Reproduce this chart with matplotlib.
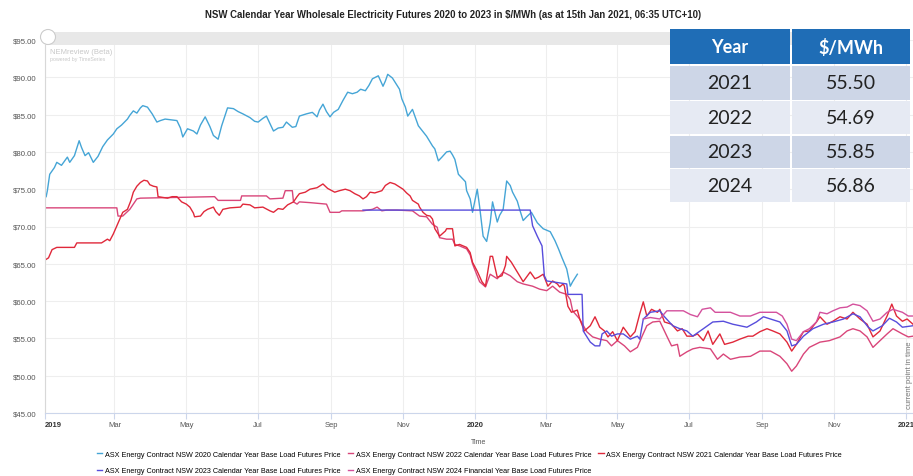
import matplotlib
matplotlib.use('Agg')
import matplotlib.pyplot as plt
import matplotlib.transforms as mtransforms
from matplotlib.patches import Rectangle, Ellipse
import pandas as pd

# days are counted from 1 Jan 2019
start = pd.Timestamp('2019-01-01')

cy2020_day = [1, 2, 4, 8, 10, 14, 19, 21, 25, 29, 31, 34, 37, 41, 45, 49, 53, 58, 61, 65,
              70, 72, 75, 78, 81, 83, 87, 91, 95, 98, 102, 107, 112, 115, 117, 121, 126, 129, 132, 136,
              140, 143, 147, 150, 155, 160, 164, 168, 174, 178, 181, 185, 188, 191, 194, 198, 202, 205, 210, 213,
              216, 222, 227, 231, 233, 236, 239, 242, 245, 249, 253, 257, 261, 265, 268, 272, 275, 278, 283, 287,
              289, 291, 295, 297, 301, 303, 306, 308, 312, 317, 320, 324, 329, 331, 334, 337, 341, 344, 346, 348,
              351, 354, 357, 358, 361, 363, 367, 369, 372, 375, 378, 380, 384, 386, 389, 392, 395, 397, 401, 403,
              406, 409, 413, 418, 423, 429, 433, 436, 439, 443, 446, 448, 452]
cy2020_val = [74.0, 74.8, 77.0, 77.9, 78.6, 78.2, 79.3, 78.6, 79.5, 81.5, 80.6, 79.5, 79.9, 78.6, 79.4, 80.7, 81.6, 82.4, 83.1, 83.6,
              84.4, 84.9, 85.5, 85.2, 85.9, 86.2, 86.0, 85.1, 84.0, 84.2, 84.4, 84.3, 84.2, 83.2, 82.0, 83.1, 82.8, 82.4, 83.6, 84.7,
              83.4, 82.2, 81.7, 83.5, 85.9, 85.8, 85.4, 85.1, 84.6, 84.1, 84.0, 84.5, 84.8, 83.8, 82.8, 83.2, 83.3, 84.0, 83.3, 83.4,
              84.8, 85.1, 85.3, 84.7, 85.6, 86.4, 85.4, 84.7, 85.3, 85.7, 86.9, 88.0, 87.8, 88.0, 88.4, 88.2, 88.9, 89.8, 90.2, 88.8,
              89.5, 90.4, 89.9, 89.4, 88.4, 87.1, 86.0, 84.8, 85.7, 83.5, 82.9, 82.1, 80.8, 80.4, 78.8, 79.3, 80.0, 80.1, 79.6, 79.0,
              77.0, 76.5, 76.0, 74.8, 73.7, 71.9, 75.0, 72.7, 68.7, 68.0, 70.5, 73.3, 70.6, 71.5, 72.3, 76.1, 75.5, 74.6, 73.4, 72.3,
              70.8, 71.3, 71.9, 70.5, 69.7, 69.3, 68.1, 67.0, 65.8, 64.3, 62.0, 62.6, 63.6]

cy2022_day = [1, 61, 62, 66, 72, 78, 81, 144, 147, 166, 167, 188, 191, 202, 204, 210, 211, 214, 216, 225,
              239, 242, 250, 252, 270, 278, 282, 286, 290, 299, 312, 318, 324, 329, 333, 335, 341, 346, 348, 352,
              358, 361, 363, 369, 374, 378, 384, 389, 395, 401, 406, 414, 420, 426, 431, 437, 443, 446, 448, 454,
              460, 465, 471, 477, 481, 486, 492, 497, 503, 507, 511, 516, 522, 528, 532, 537, 539, 545, 550, 556,
              565, 571, 576, 582, 590, 599, 607, 616, 624, 630, 634, 638, 644, 649, 658, 666, 675, 681, 686, 692,
              698, 703, 709, 715, 720, 728, 733, 737]
cy2022_val = [72.5, 72.5, 71.4, 71.4, 72.3, 73.7, 73.8, 74.0, 73.5, 73.5, 74.1, 74.1, 73.7, 73.8, 74.8, 74.8, 73.3, 73.0, 73.3, 73.2,
              73.0, 71.9, 71.9, 72.1, 72.1, 72.3, 72.6, 72.1, 72.2, 72.2, 72.1, 71.4, 71.3, 70.3, 69.9, 68.5, 68.3, 68.3, 67.6, 67.4,
              67.0, 66.2, 65.0, 62.6, 61.9, 63.6, 63.0, 63.9, 63.4, 62.6, 62.3, 62.0, 61.6, 61.4, 62.0, 61.2, 60.9, 60.2, 58.7, 57.6,
              55.9, 55.2, 54.9, 54.7, 54.0, 54.7, 54.0, 53.2, 53.8, 55.3, 56.7, 57.2, 57.3, 55.3, 54.0, 54.2, 52.6, 53.2, 53.6, 53.8,
              53.6, 52.2, 52.9, 52.2, 52.5, 52.6, 53.3, 53.3, 52.6, 51.6, 50.6, 51.3, 52.9, 53.8, 54.5, 54.7, 55.2, 56.0, 56.3, 56.0,
              55.2, 53.8, 54.7, 55.6, 56.3, 55.6, 55.2, 55.3]

cy2021_day = [1, 3, 6, 10, 25, 27, 48, 53, 55, 58, 61, 64, 66, 70, 73, 75, 78, 81, 84, 87,
              89, 92, 95, 96, 100, 104, 108, 112, 116, 120, 123, 126, 127, 132, 135, 138, 143, 145, 148, 151,
              157, 166, 168, 174, 178, 185, 191, 194, 198, 202, 206, 211, 214, 216, 221, 225, 231, 236, 240, 246,
              250, 255, 259, 263, 267, 270, 273, 276, 280, 286, 289, 293, 297, 301, 304, 307, 310, 312, 317, 318,
              321, 324, 327, 329, 331, 335, 340, 341, 346, 348, 352, 358, 361, 363, 367, 371, 374, 376, 378, 380,
              384, 388, 391, 392, 396, 401, 406, 412, 416, 419, 423, 427, 431, 435, 437, 440, 441, 444, 447, 452,
              454, 458, 463, 467, 471, 475, 478, 482, 486, 491, 497, 501, 505, 508, 511, 515, 520, 522, 526, 532,
              537, 541, 545, 550, 554, 559, 563, 567, 573, 577, 584, 590, 597, 601, 607, 613, 618, 624, 630, 634,
              638, 644, 649, 655, 658, 664, 669, 675, 681, 686, 692, 698, 703, 709, 715, 719, 723, 728, 732, 737]
cy2021_val = [65.6, 65.8, 66.9, 67.2, 67.2, 67.8, 67.8, 68.3, 68.1, 69.0, 70.1, 71.2, 71.9, 72.3, 73.5, 74.6, 75.4, 75.9, 76.2, 76.1,
              75.6, 75.4, 75.3, 74.0, 73.9, 73.8, 74.0, 74.0, 73.3, 73.0, 72.6, 71.8, 71.3, 71.4, 72.0, 72.3, 72.6, 72.0, 71.5, 72.3,
              72.5, 72.6, 73.0, 72.9, 72.5, 72.6, 72.1, 71.9, 72.4, 72.3, 72.9, 73.3, 74.0, 74.4, 74.6, 75.0, 75.2, 75.7, 75.1, 74.6,
              74.8, 75.0, 74.8, 74.4, 74.1, 73.7, 74.0, 74.6, 74.5, 74.8, 75.5, 75.9, 75.7, 75.3, 75.0, 74.5, 74.1, 73.5, 73.0, 72.6,
              71.9, 71.5, 71.4, 71.0, 69.7, 68.7, 69.4, 69.7, 69.7, 67.4, 67.6, 67.2, 66.5, 65.2, 64.0, 62.6, 62.0, 64.0, 66.0, 66.0,
              63.2, 63.4, 64.8, 66.0, 65.2, 63.9, 62.6, 63.9, 63.0, 63.2, 63.6, 62.0, 62.7, 62.3, 61.9, 62.3, 62.0, 59.3, 58.5, 58.8,
              57.6, 56.0, 56.7, 57.9, 56.5, 56.0, 55.2, 55.9, 54.7, 56.5, 55.2, 55.9, 58.3, 59.9, 58.0, 58.9, 58.5, 58.9, 57.2, 56.9,
              56.0, 56.3, 55.3, 55.3, 55.6, 54.7, 56.0, 54.2, 55.6, 54.2, 54.5, 54.9, 55.3, 55.3, 55.9, 56.3, 56.0, 55.6, 54.5, 53.3,
              54.2, 55.9, 56.0, 57.2, 57.9, 56.9, 57.3, 57.9, 57.6, 58.5, 57.6, 56.9, 55.2, 56.0, 58.0, 59.6, 58.0, 57.3, 57.6, 56.9]

cy2023_day = [270, 284, 301, 412, 414, 418, 422, 424, 426, 443, 444, 456, 457, 463, 467, 471, 473, 477, 481, 486,
              491, 497, 503, 505, 508, 514, 522, 526, 533, 539, 545, 550, 559, 567, 576, 584, 596, 604, 610, 616,
              624, 630, 634, 638, 644, 652, 661, 669, 678, 686, 692, 699, 703, 711, 717, 723, 728, 737]
cy2023_val = [72.2, 72.2, 72.2, 72.2, 70.1, 68.7, 67.4, 63.4, 62.7, 62.3, 60.9, 60.9, 56.0, 54.5, 54.0, 54.0, 55.6, 56.0, 55.3, 55.6,
              55.6, 54.9, 55.3, 54.9, 57.6, 58.5, 58.7, 57.9, 56.7, 56.3, 56.0, 55.3, 56.3, 57.2, 57.3, 56.9, 56.5, 57.2, 57.9, 57.6,
              57.2, 56.0, 54.0, 54.2, 55.3, 56.3, 56.9, 57.2, 57.6, 58.3, 57.9, 56.5, 56.0, 56.7, 57.7, 57.2, 56.5, 56.7]

fy2024_day = [508, 514, 522, 528, 542, 548, 554, 558, 565, 569, 582, 590, 599, 607, 621, 626, 630, 634, 638, 644,
              649, 655, 658, 664, 669, 675, 681, 686, 692, 698, 703, 709, 715, 720, 728, 733, 737]
fy2024_val = [57.6, 57.8, 57.6, 58.7, 58.7, 58.2, 57.9, 58.9, 59.1, 58.5, 58.5, 58.0, 58.0, 58.5, 58.5, 58.0, 56.9, 54.9, 54.7, 55.9,
              56.3, 57.2, 58.5, 58.3, 58.7, 59.1, 59.2, 59.6, 59.4, 58.7, 57.3, 57.6, 58.5, 58.9, 58.5, 58.0, 58.0]

table_years = ['2021', '2022', '2023', '2024']
table_prices = ['55.50', '54.69', '55.85', '56.86']

series = [
    ('ASX Energy Contract NSW 2020 Calendar Year Base Load Futures Price', cy2020_day, cy2020_val, '#45a5d6'),
    ('ASX Energy Contract NSW 2022 Calendar Year Base Load Futures Price', cy2022_day, cy2022_val, '#d9467a'),
    ('ASX Energy Contract NSW 2021 Calendar Year Base Load Futures Price', cy2021_day, cy2021_val, '#e0283a'),
    ('ASX Energy Contract NSW 2023 Calendar Year Base Load Futures Price', cy2023_day, cy2023_val, '#574ddc'),
    ('ASX Energy Contract NSW 2024 Financial Year Base Load Futures Price', fy2024_day, fy2024_val, '#d4509c'),
]

plt.rcParams['font.family'] = ['Liberation Sans', 'DejaVu Sans']

W, H = 913, 477
fig = plt.figure(figsize=(W / 100, H / 100), dpi=100)
ax = fig.add_axes([45 / W, 63 / H, 868 / W, 373 / H])

handles = []
for name, days, vals, col in series:
    dates = start + pd.to_timedelta(days, unit='D')
    ln, = ax.plot(dates, vals, color=col, lw=1.0, label=name)
    handles.append(ln)

ax.set_xlim(start, start + pd.Timedelta(days=737))
ax.set_ylim(45, 95)

ticks = pd.date_range('2019-01-01', '2021-01-01', freq='2MS')
labels = [str(t.year) if t.month == 1 else t.strftime('%b') for t in ticks]
ax.set_xticks(ticks)
ax.set_xticklabels(labels, fontsize=5.5, color='#555555')
for t, lab in zip(ticks, ax.get_xticklabels()):
    if t.month == 1:
        lab.set_fontweight('bold')
        lab.set_color('#333333')
ax.get_xticklabels()[0].set_ha('left')
ax.set_yticks(range(45, 96, 5))
ax.set_yticklabels([f'\\${v:.2f}' for v in range(45, 96, 5)], fontsize=5.6, color='#555555')
ax.tick_params(axis='x', length=4, color='#ccd6eb', pad=2)
ax.tick_params(axis='y', length=0, pad=6)
ax.grid(True, color='#eeeeee', lw=0.8)
ax.set_axisbelow(True)
for s in ['top', 'right']:
    ax.spines[s].set_visible(False)
ax.spines['left'].set_color('#d8d8d8')
ax.spines['bottom'].set_color('#ccd6eb')
ax.set_xlabel('Time', fontsize=5, color='#555555', labelpad=7)

# navigator band along the top
fig.add_artist(Rectangle((45 / W, 1 - 46 / H), 865 / W, 13 / H, transform=fig.transFigure,
                         facecolor='#e8e8e8', edgecolor='none'))
trans = mtransforms.blended_transform_factory(ax.transData, fig.transFigure)
for t, lab in zip(pd.date_range('2019-01-01', '2020-05-01', freq='2MS'),
                  ['19', 'Mar', 'May', 'Jul', 'Sep', 'Nov', '2020', 'Mar', 'May']):
    ax.text(t + pd.Timedelta(days=5), 1 - 40 / H, lab, transform=trans, fontsize=4.5,
            color='white', va='center', clip_on=False)
fig.add_artist(Ellipse((48 / W, 1 - 38 / H), 15 / W, 15 / H, transform=fig.transFigure,
                       facecolor='white', edgecolor='#cccccc', lw=0.8))
fig.text(50 / W, 1 - 52 / H, 'NEMreview (Beta)', fontsize=5.5, color='#c8c8c8', va='center')
fig.text(50 / W, 1 - 59 / H, 'powered by TimeSeries', fontsize=3.8, color='#c8c8c8', va='center')
fig.text(909 / W, 1 - 375 / H, 'current point in time', fontsize=5.5, color='#777777',
         rotation=90, ha='center', va='center')

fig.text(453 / W, 1 - 15 / H,
         'NSW Calendar Year Wholesale Electricity Futures 2020 to 2023 in \\$/MWh (as at 15th Jan 2021, 06:35 UTC+10)',
         fontsize=6.9, fontweight='bold', color='#222222', ha='center', va='center')

# legend, row-major order
order = [0, 3, 1, 4, 2]
fig.legend([handles[i] for i in order], [series[i][0] for i in order], ncol=3,
           loc='upper left', bbox_to_anchor=(94 / W, 1 - 449 / H), frameon=False,
           fontsize=5.2, handlelength=0.7, handletextpad=0.4, columnspacing=1.0,
           labelspacing=1.3, borderaxespad=0)

# price table, top right
tx0, tx1, tx2 = 670, 790, 910
rows_y = [(30, 65), (67, 101), (102, 135), (137, 169), (170, 203)]
fills = ['#1f6db6', '#cdd6e7', '#e6eaf3', '#cdd6e7', '#e6eaf3']
cells = [('Year', '\\$/MWh')] + list(zip(table_years, table_prices))
for (y0, y1), fc, (a, b) in zip(rows_y, fills, cells):
    for xa, xb, txt in [(tx0, tx1, a), (tx1 + 2, tx2, b)]:
        fig.add_artist(Rectangle((xa / W, 1 - y1 / H), (xb - xa) / W, (y1 - y0) / H,
                                 transform=fig.transFigure, facecolor=fc, edgecolor='none'))
        header = fc == '#1f6db6'
        fig.text((xa + xb) / 2 / W, 1 - (y0 + y1) / 2 / H, txt, family=['Lato', 'DejaVu Sans'],
                 fontsize=13 if header else 14, fontweight='bold' if header else 'normal',
                 color='white' if header else '#222222', ha='center', va='center')

fig.savefig('out.png', dpi=100, facecolor='white')
